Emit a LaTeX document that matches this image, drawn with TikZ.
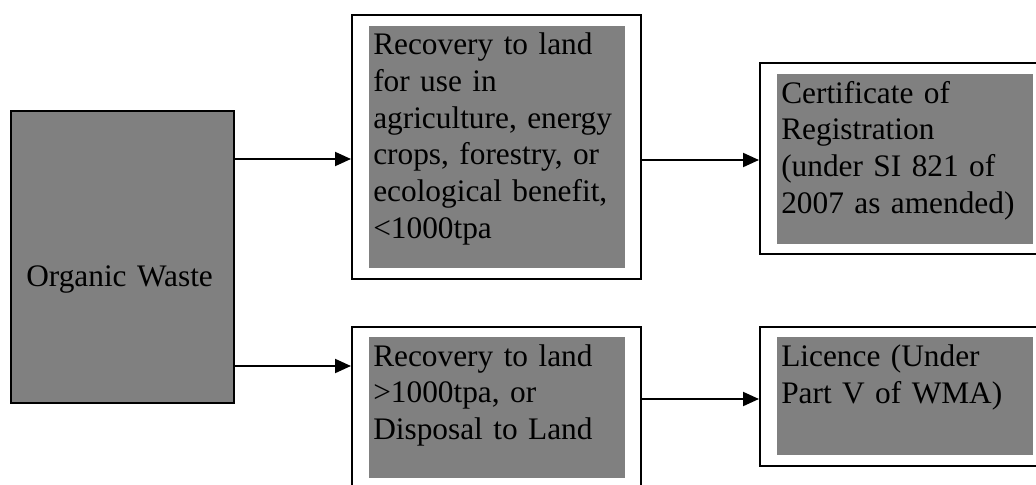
\documentclass[tikz,border=0pt]{standalone}
\usepackage{fontspec}
\setmainfont{Liberation Serif}
\usetikzlibrary{arrows.meta,fit}
\definecolor{boxgray}{RGB}{128,128,128}
\begin{document}
\begin{tikzpicture}[x=0.75pt,y=-0.75pt,
  frame/.style={draw=black, line width=1.5pt, fill=white, inner sep=0pt},
  graybox/.style={fill=boxgray, inner sep=0pt},
  orgbox/.style={fill=boxgray, draw=black, line width=0.8pt, inner sep=0pt},
  lbl/.style={anchor=base west, inner sep=0pt, text width=220pt, align=left,
              font=\fontsize{23.5}{27.5}\selectfont},
  conn/.style={line width=1.5pt, -{Triangle[length=12pt,width=10.5pt]}}]
\clip (0,0) rectangle (1036,485);
% organic waste
\node[orgbox, fit={(11,111) (234,403)}] (org) {};
% frames
\node[frame, fit={(352,14.7) (640.7,278.7)}] (f2) {};
\node[frame, fit={(352,326.7) (640.7,495)}] (f3) {};
\node[frame, fit={(760,62.7) (1045,254)}] (f4) {};
\node[frame, fit={(760,326.7) (1045,465.7)}] (f5) {};
% gray inner boxes
\node[graybox, fit={(369,26) (625,268)}] (g2) {};
\node[graybox, fit={(369,337) (625,478)}] (g3) {};
\node[graybox, fit={(777,74) (1033,244)}] (g4) {};
\node[graybox, fit={(777,337) (1033,455)}] (g5) {};
% texts
\node[lbl] (t1) at (26,286.7) {Organic Waste};
\node[lbl] (t2) at (373,55) {Recovery to land\\for use in\\agriculture, energy\\crops, forestry, or\\ecological benefit,\\<1000tpa};
\node[lbl] (t3) at (373,366) {Recovery to land\\>1000tpa, or\\Disposal to Land};
\node[lbl] (t4) at (781,103.3) {Certificate of\\Registration\\(under SI 821 of\\2007 as amended)};
\node[lbl] (t5) at (781,366.7) {Licence (Under\\Part V of WMA)};
% connectors
\coordinate (ya) at (0,159);
\coordinate (yb) at (0,366);
\coordinate (yc) at (0,160);
\coordinate (yd) at (0,399);
\draw[conn] (org.east |- ya) -- (f2.west |- ya);
\draw[conn] (org.east |- yb) -- (f3.west |- yb);
\draw[conn] (f2.east |- yc) -- (f4.west |- yc);
\draw[conn] (f3.east |- yd) -- (f5.west |- yd);
\end{tikzpicture}
\end{document}
